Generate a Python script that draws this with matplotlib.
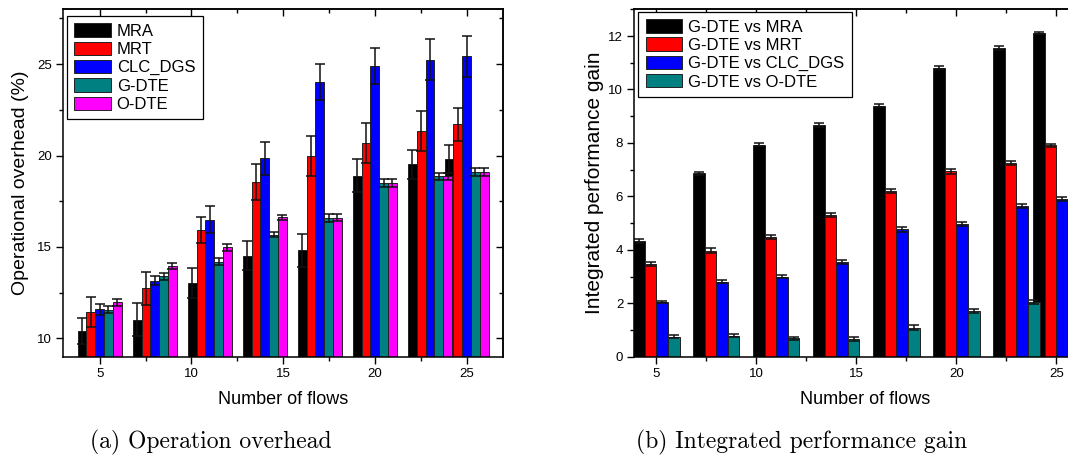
import matplotlib
matplotlib.use("Agg")
import matplotlib.pyplot as plt
import numpy as np
from matplotlib.ticker import MultipleLocator

# ---------------- data ----------------
flows = [5, 8, 11, 14, 17, 20, 23, 25]
xticks = [5, 10, 15, 20, 25]

left_labels = ["MRA", "MRT", "CLC_DGS", "G-DTE", "O-DTE"]
mra = [10.42, 11.02, 13.03, 14.52, 14.83, 18.91, 19.53, 19.82]
mra_err = [0.70, 0.90, 0.80, 0.80, 0.90, 0.90, 0.80, 0.75]
mrt = [11.44, 12.73, 15.94, 18.55, 19.97, 20.68, 21.34, 21.70]
mrt_err = [0.80, 0.90, 0.70, 1.00, 1.10, 1.10, 1.10, 0.90]
clc = [11.60, 13.15, 16.50, 19.84, 24.02, 24.91, 25.25, 25.42]
clc_err = [0.30, 0.25, 0.75, 0.90, 1.00, 1.00, 1.10, 1.10]
gdte = [11.57, 13.39, 14.20, 15.67, 16.58, 18.50, 18.86, 19.10]
gdte_err = [0.20, 0.20, 0.20, 0.15, 0.20, 0.20, 0.20, 0.20]
odte = [11.97, 13.96, 14.98, 16.62, 16.60, 18.50, 18.86, 19.10]
odte_err = [0.20, 0.18, 0.20, 0.15, 0.20, 0.20, 0.20, 0.20]

right_labels = ["G-DTE vs MRA", "G-DTE vs MRT", "G-DTE vs CLC_DGS", "G-DTE vs O-DTE"]
vs_mra = [4.34, 6.86, 7.94, 8.68, 9.40, 10.81, 11.56, 12.11]
vs_mra_err = [0.08, 0.05, 0.05, 0.07, 0.07, 0.05, 0.07, 0.05]
vs_mrt = [3.48, 3.96, 4.48, 5.30, 6.21, 6.94, 7.26, 7.91]
vs_mrt_err = [0.07, 0.09, 0.08, 0.06, 0.07, 0.10, 0.07, 0.05]
vs_clc = [2.05, 2.81, 3.00, 3.54, 4.76, 4.96, 5.64, 5.90]
vs_clc_err = [0.05, 0.05, 0.05, 0.06, 0.08, 0.08, 0.07, 0.07]
vs_odte = [0.75, 0.78, 0.69, 0.66, 1.09, 1.70, 2.05, 2.12]
vs_odte_err = [0.06, 0.06, 0.05, 0.07, 0.10, 0.08, 0.07, 0.07]

colors = ["#000000", "#FF0000", "#0000FF", "#008080", "#FF00FF"]

plt.rcParams['font.family'] = ['Liberation Sans', 'DejaVu Sans']

fig = plt.figure(figsize=(10.68, 4.58), dpi=100)

W, H = 1068.0, 458.0
def axpos(l, r, t, b):
    return [l / W, 1 - b / H, (r - l) / W, (b - t) / H]

ax1 = fig.add_axes(axpos(63, 503.3, 9.3, 356.7))
ax2 = fig.add_axes(axpos(634.3, 1096.3, 9.3, 356.7))

def style_axis(ax, ymaj, ymin, right_mirror=True):
    for s in ax.spines.values():
        s.set_linewidth(1.1)
    ax.xaxis.set_major_locator(MultipleLocator(5))
    ax.xaxis.set_minor_locator(MultipleLocator(2.5))
    ax.yaxis.set_major_locator(MultipleLocator(ymaj))
    ax.yaxis.set_minor_locator(MultipleLocator(ymin))
    ax.tick_params(which='major', direction='out', length=5, width=1.0, labelsize=9.5, pad=3)
    ax.tick_params(which='minor', direction='out', length=2.8, width=1.0)
    top = ax.secondary_xaxis('top')
    top.xaxis.set_major_locator(MultipleLocator(5))
    top.xaxis.set_minor_locator(MultipleLocator(2.5))
    top.tick_params(which='major', direction='in', length=5, width=1.0, labeltop=False)
    top.tick_params(which='minor', direction='in', length=2.8, width=1.0)
    top.spines['top'].set_linewidth(1.1)
    if right_mirror:
        rt = ax.secondary_yaxis('right')
        rt.yaxis.set_major_locator(MultipleLocator(ymaj))
        rt.yaxis.set_minor_locator(MultipleLocator(ymin))
        rt.tick_params(which='major', direction='in', length=5, width=1.0, labelright=False)
        rt.tick_params(which='minor', direction='in', length=2.8, width=1.0)
        rt.spines['right'].set_linewidth(1.1)

legend_kw = dict(loc='upper left', borderaxespad=0, fontsize=12, frameon=True, fancybox=False,
                 edgecolor='black', framealpha=1, handlelength=2.2, handleheight=0.85,
                 handletextpad=0.35, labelspacing=0.17, borderpad=0.45)

# ---------------- left chart ----------------
x = np.array(flows, dtype=float)
w1 = 0.48
series1 = [(mra, mra_err), (mrt, mrt_err), (clc, clc_err), (gdte, gdte_err), (odte, odte_err)]
handles1 = []
for i, (vals, errs) in enumerate(series1):
    b = ax1.bar(x + (i - 2) * w1, vals, width=w1, color=colors[i], edgecolor='#222222',
                linewidth=0.7, yerr=errs,
                error_kw=dict(ecolor='#111111', elinewidth=1.1, capsize=3.5, capthick=1.1),
                label=left_labels[i])
    handles1.append(b)
ax1.set_xlim(3, 27)
ax1.set_ylim(9, 28)
style_axis(ax1, 5, 2.5)
ax1.set_xticks(xticks)
ax1.set_ylabel("Operational overhead (%)", fontsize=14, labelpad=6)
ax1.set_xlabel("Number of flows", fontsize=13, labelpad=8)
leg1 = ax1.legend(handles=handles1, bbox_to_anchor=(0.0084, 0.981), **legend_kw)
leg1.get_frame().set_linewidth(0.9)

# ---------------- right chart ----------------
w2 = 0.58
series2 = [(vs_mra, vs_mra_err), (vs_mrt, vs_mrt_err), (vs_clc, vs_clc_err), (vs_odte, vs_odte_err)]
handles2 = []
for i, (vals, errs) in enumerate(series2):
    b = ax2.bar(x + (i - 1.5) * w2, vals, width=w2, color=colors[i], edgecolor='#222222',
                linewidth=0.7, yerr=errs,
                error_kw=dict(ecolor='#111111', elinewidth=1.1, capsize=3.3, capthick=1.1),
                label=right_labels[i])
    handles2.append(b)
ax2.set_xlim(3.9, 27)
ax2.set_ylim(0, 13)
style_axis(ax2, 2, 1, right_mirror=False)
ax2.set_xticks(xticks)
ax2.set_ylabel("Integrated performance gain", fontsize=15, labelpad=3)
ax2.set_xlabel("Number of flows", fontsize=13, labelpad=8)
leg2 = ax2.legend(handles=handles2, bbox_to_anchor=(0.0087, 0.993), **legend_kw)
leg2.get_frame().set_linewidth(0.9)

# ---------------- captions ----------------
fig.text(211 / W, 1 - 442 / H, "(a) Operation overhead", family='cmr10', fontsize=17,
         ha='center', va='center')
fig.text(802 / W, 1 - 442 / H, "(b) Integrated performance gain", family='cmr10', fontsize=17,
         ha='center', va='center')

fig.savefig("out.png", dpi=100)
